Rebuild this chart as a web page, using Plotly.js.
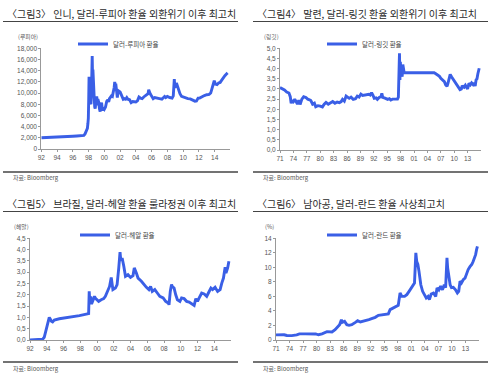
<!DOCTYPE html>
<html><head><meta charset="utf-8">
<script src="https://cdn.plot.ly/plotly-3.0.1.min.js"></script>
<style>html,body{margin:0;padding:0;background:#fff}#chart{width:500px;height:379px}</style>
</head><body><div id="chart"></div>
<script>
// ---- Panel 1: USD/IDR ----
const idrDates = [1992.0,1992.5,1993.0,1993.5,1994.0,1994.5,1995.0,1995.5,1996.0,1996.5,
 1997.0,1997.4,1997.55,1997.65,1997.75,1997.85,1997.92,1997.97,1998.02,1998.06,
 1998.09,1998.12,1998.16,1998.22,1998.3,1998.36,1998.42,1998.46,1998.5,1998.55,
 1998.6,1998.66,1998.72,1998.78,1998.84,1998.9,1998.96,1999.03,1999.1,1999.18,
 1999.28,1999.38,1999.47,1999.55,1999.65,1999.72,1999.8,1999.9,2000.0,2000.15,
 2000.3,2000.45,2000.55,2000.65,2000.78,2000.9,2001.02,2001.15,2001.25,2001.32,
 2001.38,2001.45,2001.55,2001.65,2001.72,2001.8,2001.9,2002.0,2002.12,2002.25,
 2002.4,2002.55,2002.7,2002.85,2003.0,2003.2,2003.4,2003.6,2003.8,2004.0,
 2004.2,2004.4,2004.6,2004.8,2005.0,2005.2,2005.4,2005.55,2005.63,2005.7,
 2005.78,2005.9,2006.05,2006.2,2006.4,2006.6,2006.8,2007.0,2007.3,2007.5,
 2007.65,2007.8,2008.0,2008.3,2008.6,2008.75,2008.82,2008.88,2008.95,2009.05,
 2009.15,2009.3,2009.45,2009.6,2009.8,2010.0,2010.3,2010.6,2010.9,2011.2,
 2011.5,2011.7,2011.9,2012.1,2012.4,2012.7,2013.0,2013.3,2013.5,2013.65,
 2013.8,2013.95,2014.1,2014.3,2014.5,2014.7,2014.9,2015.1,2015.3,2015.5,2015.65];
const idrRates = [2000,2020,2060,2090,2110,2150,2200,2240,2290,2330,
 2370,2430,2700,3100,3600,3700,4600,5500,9000,12900,
 10500,8800,9200,8300,8000,9800,14000,16600,13500,14200,
 11000,12800,9000,7500,7200,8000,7800,9400,8600,8900,
 8400,7200,6700,7500,8300,7400,6900,7300,7100,7500,
 8500,8800,8400,9000,9400,9500,9400,10200,11000,12000,
 11300,11700,10500,9200,10000,10400,10300,10200,9800,9200,
 8900,9000,8900,9200,8900,8800,8300,8500,8500,8400,
 8600,9300,9100,9000,9300,9500,9700,9900,10600,10200,
 10000,9700,9400,9000,9200,9100,9100,9000,8900,9100,
 9400,9200,9400,9200,9100,9500,11000,12500,11000,11200,
 11800,11000,10200,9900,9400,9300,9100,9000,8950,8700,
 8550,8600,9100,9100,9400,9550,9700,9750,10000,10800,
 11500,12200,11600,11500,11800,11900,12300,12800,13100,13400,13600];

// ---- Panel 2: USD/MYR ----
const myrDates = [1971.0,1971.5,1972.0,1972.5,1973.0,1973.3,1973.5,1973.7,1974.0,1974.3,
 1974.6,1974.9,1975.2,1975.5,1975.9,1976.3,1976.8,1977.2,1977.6,1977.9,
 1978.3,1978.7,1979.0,1979.5,1980.0,1980.5,1980.9,1981.3,1981.8,1982.3,
 1982.8,1983.3,1983.8,1984.3,1984.7,1985.0,1985.4,1985.8,1986.2,1986.5,
 1986.9,1987.4,1987.9,1988.3,1988.7,1989.1,1989.5,1989.8,1990.3,1990.9,
 1991.2,1991.5,1991.8,1992.1,1992.5,1992.8,1993.2,1993.6,1993.8,1994.0,
 1994.5,1995.1,1995.5,1995.8,1996.2,1996.6,1997.0,1997.3,1997.5,1997.6,
 1997.75,1997.85,1997.95,1998.05,1998.2,1998.35,1998.5,1998.65,1998.8,2000.0,
 2002.0,2004.0,2005.5,2005.8,2006.3,2006.7,2007.0,2007.4,2007.8,2008.1,
 2008.4,2008.6,2008.9,2009.1,2009.4,2009.7,2009.9,2010.2,2010.5,2010.9,
 2011.3,2011.6,2011.8,2012.0,2012.2,2012.5,2012.8,2013.0,2013.3,2013.6,
 2013.9,2014.2,2014.4,2014.7,2014.9,2015.1,2015.3,2015.45,2015.6];
const myrRates = [3.07,3.02,2.95,2.85,2.80,2.62,2.30,2.45,2.38,2.50,
 2.40,2.26,2.45,2.24,2.50,2.62,2.58,2.50,2.47,2.43,
 2.25,2.30,2.13,2.18,2.16,2.12,2.25,2.34,2.25,2.33,
 2.38,2.30,2.36,2.33,2.38,2.49,2.40,2.65,2.58,2.54,
 2.60,2.49,2.52,2.65,2.60,2.75,2.68,2.70,2.72,2.74,
 2.70,2.82,2.70,2.54,2.56,2.49,2.58,2.62,2.79,2.59,
 2.55,2.49,2.52,2.46,2.50,2.49,2.48,2.50,2.60,3.60,
 4.75,3.44,4.34,3.77,4.10,3.60,4.20,3.85,3.80,3.80,
 3.80,3.80,3.80,3.76,3.69,3.62,3.52,3.43,3.36,3.20,
 3.13,3.28,3.60,3.72,3.60,3.50,3.40,3.30,3.20,3.05,
 2.97,3.00,3.17,3.10,3.08,3.18,3.05,3.00,3.28,3.20,
 3.30,3.22,3.30,3.15,3.45,3.50,3.75,3.85,4.02];

// ---- Panel 3: USD/BRL ----
const brlDates = [1992.0,1993.0,1993.5,1993.7,1993.9,1994.1,1994.3,1994.4,1994.55,1994.7,
 1994.9,1995.5,1996.7,1997.9,1999.0,1999.07,1999.15,1999.25,1999.35,1999.5,
 1999.7,1999.85,2000.2,2000.5,2000.8,2001.0,2001.3,2001.5,2001.7,2001.8,
 2001.9,2002.2,2002.4,2002.6,2002.75,2002.85,2003.0,2003.2,2003.4,2003.7,
 2004.0,2004.3,2004.45,2004.7,2004.9,2005.3,2005.6,2005.9,2006.2,2006.4,
 2006.6,2006.9,2007.2,2007.5,2007.9,2008.2,2008.5,2008.6,2008.75,2008.9,
 2009.0,2009.2,2009.4,2009.6,2009.9,2010.1,2010.4,2010.7,2011.0,2011.3,
 2011.6,2011.8,2012.0,2012.2,2012.5,2012.8,2013.1,2013.3,2013.6,2013.8,
 2014.1,2014.4,2014.7,2014.9,2015.1,2015.3,2015.4,2015.6,2015.75];
const brlRates = [0.0,0.0,0.03,0.12,0.38,0.68,1.0,0.94,0.83,0.80,
 0.88,0.94,1.0,1.08,1.17,2.15,1.64,1.93,1.59,1.71,
 1.93,1.83,1.71,1.78,1.83,1.93,2.15,2.37,2.77,2.55,
 2.23,2.30,2.45,3.19,3.89,3.50,3.63,3.26,2.82,2.89,
 2.77,2.85,3.19,2.96,2.74,2.60,2.45,2.33,2.23,2.37,
 2.15,2.23,2.08,1.93,1.86,1.71,1.64,1.56,2.15,2.45,
 2.37,2.30,2.00,1.78,1.71,1.86,1.83,1.71,1.68,1.59,
 1.53,1.83,1.71,1.86,2.08,2.04,1.93,2.08,2.30,2.23,
 2.33,2.15,2.23,2.52,2.74,3.22,2.96,3.19,3.48];

// ---- Panel 4: USD/ZAR ----
const zarDates = [1971.0,1972.0,1972.8,1973.4,1974.5,1975.6,1976.2,1977.5,1978.8,1979.8,
 1980.4,1981.2,1982.3,1983.4,1984.1,1984.7,1985.1,1985.5,1985.7,1986.2,
 1986.7,1987.2,1987.8,1988.6,1989.1,1989.7,1990.4,1991.1,1991.6,1992.2,
 1993.0,1993.7,1994.5,1995.2,1995.9,1996.3,1997.0,1997.5,1998.1,1998.5,
 1998.9,1999.5,2000.0,2000.5,2001.1,2001.7,2001.85,2002.0,2002.2,2002.45,
 2002.7,2003.1,2003.5,2003.9,2004.3,2004.7,2005.0,2005.4,2005.9,2006.4,
 2006.7,2007.1,2007.5,2007.9,2008.3,2008.6,2008.75,2008.9,2009.05,2009.3,
 2009.6,2009.9,2010.3,2010.8,2011.2,2011.5,2011.8,2012.1,2012.5,2012.9,
 2013.3,2013.6,2014.0,2014.4,2014.7,2015.0,2015.25,2015.45,2015.65];
const zarRates = [0.70,0.73,0.72,0.62,0.60,0.70,0.85,0.85,0.85,0.83,
 0.72,0.85,1.15,1.10,1.42,1.88,2.10,2.80,2.43,2.57,
 2.11,2.02,2.10,2.43,2.66,2.48,2.57,2.66,2.80,2.94,
 3.12,3.40,3.49,3.58,3.60,4.18,4.41,4.50,4.77,6.47,
 6.00,6.00,6.24,6.70,7.25,7.85,9.90,12.00,10.80,10.40,
 9.45,7.60,6.70,6.24,5.78,6.00,5.55,6.33,6.47,6.00,
 7.16,6.90,7.40,6.90,7.60,7.20,9.00,11.30,9.90,8.80,
 7.60,7.20,7.25,6.90,6.47,6.70,8.10,7.85,8.30,8.50,
 9.20,9.70,10.10,10.40,10.80,11.30,11.75,12.40,12.90];

// ---- Texts and ticks ----
const titles = ['〈그림3〉 인니, 달러-루피아 환율 외환위기 이후 최고치',
                '〈그림4〉 말련, 달러-링깃 환율 외환위기 이후 최고치',
                '〈그림5〉 브라질, 달러-헤알 환율 룰라정권 이후 최고치',
                '〈그림6〉 남아공, 달러-란드 환율 사상최고치'];
const seriesNames = ['달러-루피아 환율','달러-링깃 환율','달러-헤알 환율','달러-란드 환율'];
const unitLabels = ['(루피아)','(링깃)','(헤알)','(%)'];
const sourceText = '자료: Bloomberg';

const idrYTicks = [0,2000,4000,6000,8000,10000,12000,14000,16000,18000];
const idrYText = ['0','2,000','4,000','6,000','8,000','10,000','12,000','14,000','16,000','18,000'];
const myrYTicks = [0,0.5,1,1.5,2,2.5,3,3.5,4,4.5,5];
const myrYText = ['0,0','0,5','1,0','1,5','2,0','2,5','3,0','3,5','4,0','4,5','5,0'];
const brlYTicks = [0,0.5,1,1.5,2,2.5,3,3.5,4,4.5];
const brlYText = ['0,0','0,5','1,0','1,5','2,0','2,5','3,0','3,5','4,0','4,5'];
const zarYTicks = [0,2,4,6,8,10,12,14];
const zarYText = ['0','2','4','6','8','10','12','14'];
const xTicks92 = [1992,1994,1996,1998,2000,2002,2004,2006,2008,2010,2012,2014];
const xText92 = ['92','94','96','98','00','02','04','06','08','10','12','14'];
const xTicks71 = [1971,1974,1977,1980,1983,1986,1989,1992,1995,1998,2001,2004,2007,2010,2013];
const xText71 = ['71','74','77','80','83','86','89','92','95','98','01','04','07','10','13'];

// ---- Layout helpers ----
const W = 500, H = 379;
const px = x => x / W;
const py = y => 1 - y / H;
const LINE = '#3a5fe6';
const numFont = {family: '"Liberation Sans Narrow", "Liberation Sans", Arial, sans-serif', size: 6.5, color: '#555'};
const CJK = '"Noto Sans CJK KR", "Noto Sans", sans-serif';

function xAxis(l, r, range, vals, text, anchor) {
  return {domain: [px(l), px(r)], range: range, tickmode: 'array', tickvals: vals, ticktext: text,
    showgrid: false, zeroline: false, showline: true, linecolor: '#999', linewidth: 1,
    ticks: 'outside', ticklen: 2, tickcolor: '#999', tickfont: numFont, anchor: anchor, fixedrange: true};
}
function yAxis(top, bottom, range, vals, text, anchor) {
  return {domain: [py(bottom), py(top)], range: range, tickmode: 'array', tickvals: vals, ticktext: text,
    showgrid: false, zeroline: false, showline: true, linecolor: '#999', linewidth: 1,
    ticks: 'outside', ticklen: 2, tickcolor: '#999', tickfont: numFont, anchor: anchor, fixedrange: true};
}
function trace(x, y, name, xa, ya, lg) {
  return {x: x, y: y, name: name, type: 'scatter', mode: 'lines', xaxis: xa, yaxis: ya, legend: lg,
    showlegend: true, line: {color: LINE, width: 2.9}, hoverinfo: 'skip'};
}
function legendAt(x, y) {
  return {x: px(x), y: py(y), xanchor: 'left', yanchor: 'middle', bgcolor: 'rgba(0,0,0,0)',
    borderwidth: 0, font: {family: CJK, size: 6.5, color: '#444'}, itemwidth: 30, tracegroupgap: 0};
}

const data = [
  trace(idrDates, idrRates, seriesNames[0], 'x', 'y', 'legend'),
  trace(myrDates, myrRates, seriesNames[1], 'x2', 'y2', 'legend2'),
  trace(brlDates, brlRates, seriesNames[2], 'x3', 'y3', 'legend3'),
  trace(zarDates, zarRates, seriesNames[3], 'x4', 'y4', 'legend4')
];

const panels = [
  {ox: 0, oy: 0}, {ox: 250, oy: 0}, {ox: 0, oy: 190}, {ox: 250, oy: 190}
];
const titleX = [5, 255, 5, 255];
const unitX = [16, 262, 12, 263];
const annotations = [];
const shapes = [];
panels.forEach((p, i) => {
  annotations.push({text: titles[i], x: px(titleX[i]), y: py(p.oy + 13), xref: 'paper', yref: 'paper',
    xanchor: 'left', yanchor: 'middle', showarrow: false, font: {family: CJK, size: 10, color: '#2a2a2a'}});
  annotations.push({text: unitLabels[i], x: px(unitX[i]), y: py(p.oy + 36), xref: 'paper', yref: 'paper',
    xanchor: 'left', yanchor: 'middle', showarrow: false, font: {family: CJK, size: 5.8, color: '#555'}});
  annotations.push({text: sourceText, x: px(p.ox + 11), y: py(p.oy + 178), xref: 'paper', yref: 'paper',
    xanchor: 'left', yanchor: 'middle', showarrow: false, font: {family: CJK, size: 6, color: '#555'}});
  shapes.push({type: 'line', xref: 'paper', yref: 'paper', x0: px(p.ox + 3), x1: px(p.ox + 238),
    y0: py(p.oy + 21.5), y1: py(p.oy + 21.5), line: {color: '#444', width: 1}});
  shapes.push({type: 'line', xref: 'paper', yref: 'paper', x0: px(p.ox + 3), x1: px(p.ox + 238),
    y0: py(p.oy + 172), y1: py(p.oy + 172), line: {color: '#444', width: 1.3}});
});

const layout = {
  width: W, height: 379, margin: {l: 0, r: 0, t: 0, b: 0},
  paper_bgcolor: '#fff', plot_bgcolor: '#fff', showlegend: true,
  xaxis:  xAxis(41.3, 230.4, [1992, 2016], xTicks92, xText92, 'y'),
  yaxis:  yAxis(48.3, 149, [0, 18000], idrYTicks, idrYText, 'x'),
  xaxis2: xAxis(280, 481, [1971, 2016], xTicks71, xText71, 'y2'),
  yaxis2: yAxis(48.3, 150, [0, 5], myrYTicks, myrYText, 'x2'),
  xaxis3: xAxis(30, 231, [1992, 2016], xTicks92, xText92, 'y3'),
  yaxis3: yAxis(238.3, 340, [0, 4.5], brlYTicks, brlYText, 'x3'),
  xaxis4: xAxis(276, 479, [1971, 2016], xTicks71, xText71, 'y4'),
  yaxis4: yAxis(238.3, 340, [0, 14], zarYTicks, zarYText, 'x4'),
  legend:  legendAt(73, 44),
  legend2: legendAt(322, 44),
  legend3: legendAt(75, 235),
  legend4: legendAt(322, 235),
  annotations: annotations,
  shapes: shapes
};

Plotly.newPlot('chart', data, layout, {staticPlot: true, displayModeBar: false});
</script></body></html>
